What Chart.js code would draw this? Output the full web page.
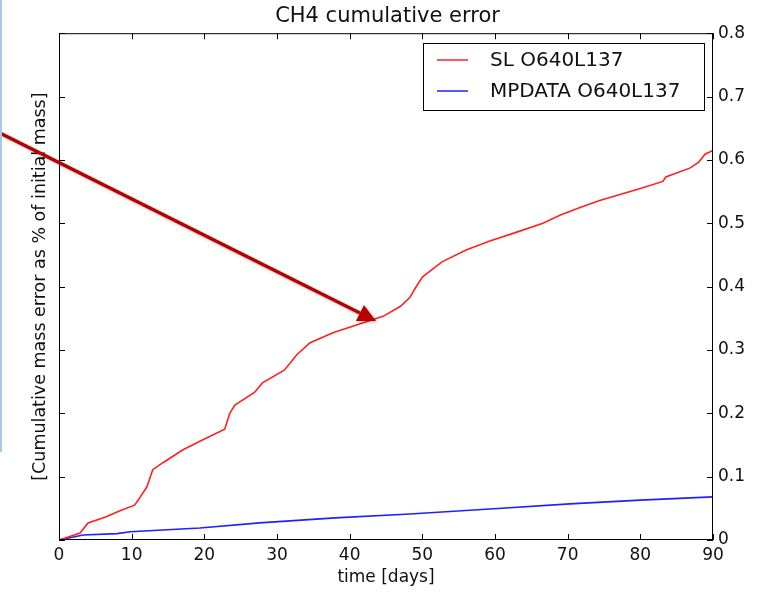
<!DOCTYPE html>
<html>
<head>
<meta charset="utf-8">
<script src="https://cdn.jsdelivr.net/npm/chart.js@4"></script>
<style>
  body { margin: 0; background: #fff; }
  #wrap { position: relative; width: 775px; height: 592px; }
  #edge { position: absolute; left: 0; top: 0; width: 2px; height: 452px; background: #a8c8e8; }
</style>
</head>
<body>
<div id="wrap">
  <canvas id="errChart" width="775" height="592"></canvas>
  <div id="edge"></div>
</div>
<script>
// values
const slDays = [0, 2.9, 4, 6.3, 8.4, 10.4, 10.9, 12.1, 12.9, 14.3, 17, 19.6, 22.8, 23.5, 24.2, 26.9, 28, 31, 32.7, 34.5, 37.7, 42.4, 44.6, 47, 48.3, 49.1, 50, 52.7, 56.1, 59.3, 63, 66.6, 69, 71.7, 74.4, 80, 83.1, 83.5, 86.8, 88, 88.9, 90];
const slError = [0, 0.011, 0.027, 0.036, 0.046, 0.055, 0.063, 0.084, 0.111, 0.122, 0.142, 0.157, 0.175, 0.2, 0.213, 0.233, 0.248, 0.268, 0.292, 0.311, 0.327, 0.345, 0.353, 0.369, 0.383, 0.399, 0.415, 0.439, 0.458, 0.472, 0.486, 0.5, 0.513, 0.525, 0.536, 0.555, 0.566, 0.573, 0.587, 0.596, 0.609, 0.615];
const mpDays = [0, 3.3, 8, 9.8, 19.4, 27.6, 38, 48.3, 59.3, 70.3, 80, 90];
const mpError = [0, 0.008, 0.01, 0.013, 0.019, 0.027, 0.035, 0.041, 0.049, 0.057, 0.063, 0.068];
const seriesNames = ['SL O640L137', 'MPDATA O640L137'];
const seriesColors = ['#ff2020', '#2020ff'];

const FONT = 'DejaVu Sans';

function toPoints(xs, ys) {
    return xs.map((x, i) => ({ x: x, y: ys[i] }));
}

// frame, inward ticks, legend box and the arrow on top
const extras = {
    id: 'extras',
    afterDraw(chart) {
        const ctx = chart.ctx;
        const a = chart.chartArea;
        const xs = chart.scales.x;
        const ys = chart.scales.y;
        ctx.save();

        // box around the plot
        ctx.strokeStyle = '#000';
        ctx.lineWidth = 1;
        ctx.strokeRect(a.left + 0.5, a.top + 0.5, a.right - a.left - 1, a.bottom - a.top - 1);

        // ticks pointing inward on all four sides
        const len = 6;
        ctx.beginPath();
        xs.ticks.forEach(t => {
            const px = Math.round(xs.getPixelForValue(t.value)) + 0.5;
            ctx.moveTo(px, a.bottom); ctx.lineTo(px, a.bottom - len);
            ctx.moveTo(px, a.top); ctx.lineTo(px, a.top + len);
        });
        ys.ticks.forEach(t => {
            const py = Math.round(ys.getPixelForValue(t.value)) + 0.5;
            ctx.moveTo(a.left, py); ctx.lineTo(a.left + len, py);
            ctx.moveTo(a.right, py); ctx.lineTo(a.right - len, py);
        });
        ctx.stroke();

        // legend
        ctx.fillStyle = '#fff';
        ctx.fillRect(423, 43, 281, 67);
        ctx.strokeStyle = '#000';
        ctx.strokeRect(423.5, 43.5, 281, 67);
        ctx.font = '20px "' + FONT + '"';
        ctx.textBaseline = 'middle';
        seriesNames.forEach((name, i) => {
            const y = 60 + i * 31;
            ctx.strokeStyle = seriesColors[i];
            ctx.lineWidth = 1.5;
            ctx.beginPath();
            ctx.moveTo(437, y);
            ctx.lineTo(468, y);
            ctx.stroke();
            ctx.fillStyle = '#111';
            ctx.fillText(name, 490, y + 1);
        });

        // dark red arrow pasted over the chart
        ctx.shadowColor = 'rgba(0,0,0,0.25)';
        ctx.shadowBlur = 3;
        ctx.shadowOffsetX = 1.5;
        ctx.shadowOffsetY = 1.5;
        ctx.strokeStyle = '#b80000';
        ctx.fillStyle = '#b80000';
        ctx.lineWidth = 3.5;
        const x0 = 0, y0 = 133, x1 = 376, y1 = 321;
        const ang = Math.atan2(y1 - y0, x1 - x0);
        const hl = 18, hw = 9;
        const bx = x1 - hl * Math.cos(ang), by = y1 - hl * Math.sin(ang);
        ctx.beginPath();
        ctx.moveTo(x0, y0);
        ctx.lineTo(bx, by);
        ctx.stroke();
        ctx.beginPath();
        ctx.moveTo(x1, y1);
        ctx.lineTo(bx + hw * Math.sin(ang), by - hw * Math.cos(ang));
        ctx.lineTo(bx - hw * Math.sin(ang), by + hw * Math.cos(ang));
        ctx.closePath();
        ctx.fill();

        ctx.restore();
    }
};

const ctx = document.getElementById('errChart').getContext('2d');
new Chart(ctx, {
    type: 'line',
    data: {
        datasets: [
            {
                label: seriesNames[0],
                data: toPoints(slDays, slError),
                borderColor: seriesColors[0],
                borderWidth: 1.6,
                pointRadius: 0,
                tension: 0,
                yAxisID: 'y'
            },
            {
                label: seriesNames[1],
                data: toPoints(mpDays, mpError),
                borderColor: seriesColors[1],
                borderWidth: 1.6,
                pointRadius: 0,
                tension: 0,
                yAxisID: 'y'
            }
        ]
    },
    options: {
        responsive: false,
        animation: false,
        layout: { padding: 0 },
        plugins: {
            legend: { display: false },
            tooltip: { enabled: false },
            title: {
                display: true,
                text: 'CH4 cumulative error',
                color: '#111',
                font: { family: FONT, size: 21, weight: 'normal' },
                padding: { top: 4, bottom: 4 }
            }
        },
        scales: {
            x: {
                type: 'linear',
                min: 0,
                max: 90,
                ticks: {
                    stepSize: 10,
                    padding: 5,
                    color: '#111',
                    font: { family: FONT, size: 17 }
                },
                grid: { display: false, drawTicks: false },
                border: { display: false },
                title: {
                    display: true,
                    text: 'time [days]',
                    color: '#111',
                    font: { family: FONT, size: 17 },
                    padding: { top: 4, bottom: 4 }
                },
                afterFit(scale) { scale.height = 52; }
            },
            y: {
                position: 'right',
                min: 0,
                max: 0.8,
                ticks: {
                    stepSize: 0.1,
                    padding: 5,
                    color: '#111',
                    font: { family: FONT, size: 17 }
                },
                grid: { display: false, drawTicks: false },
                border: { display: false },
                afterFit(scale) { scale.width = 62; }
            },
            yLeft: {
                position: 'left',
                min: 0,
                max: 0.8,
                ticks: { display: false },
                grid: { display: false, drawTicks: false },
                border: { display: false },
                title: {
                    display: true,
                    text: '[Cumulative mass error as % of initial mass]',
                    color: '#111',
                    font: { family: FONT, size: 17.5 },
                    padding: { top: 30, bottom: 0 }
                },
                afterFit(scale) { scale.width = 59; }
            }
        }
    },
    plugins: [extras]
});
</script>
</body>
</html>
